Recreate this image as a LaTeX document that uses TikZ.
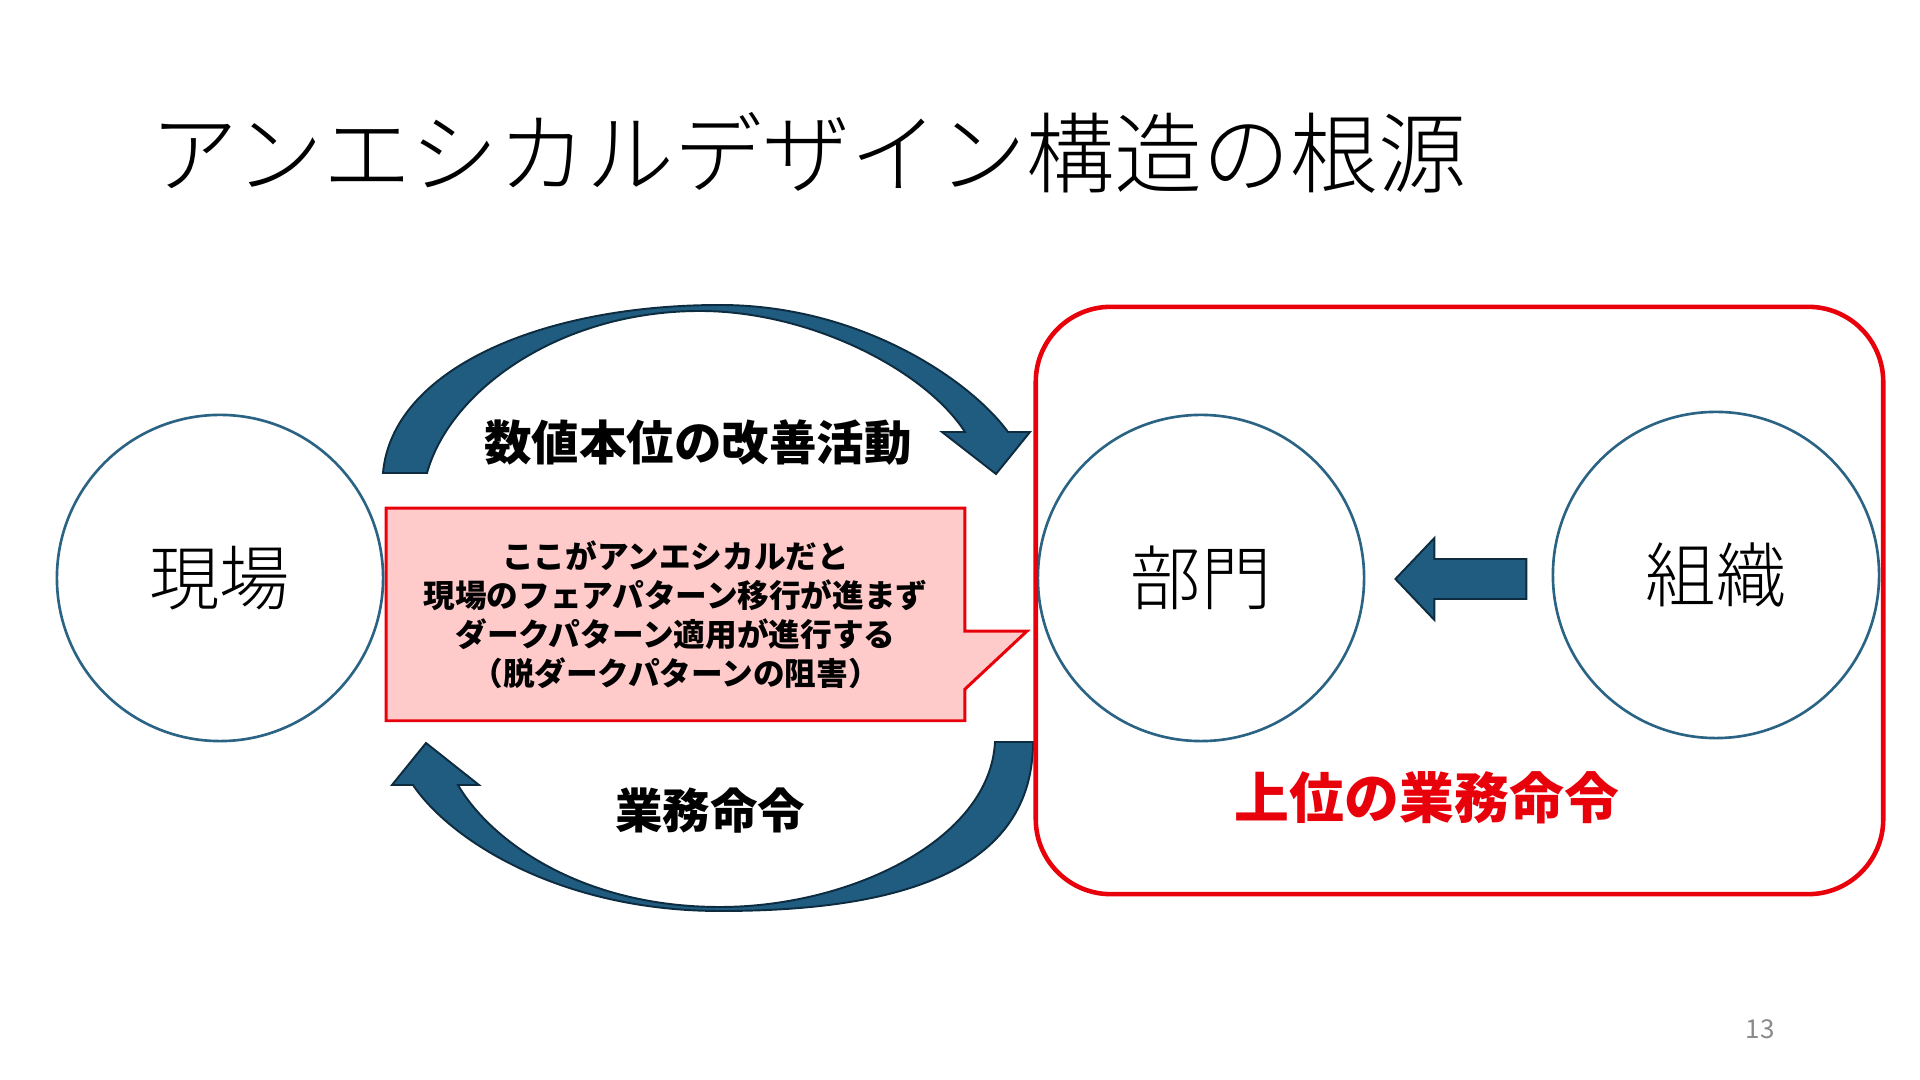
\documentclass[tikz,border=0pt]{standalone}
\usepackage{fontspec}
\newfontfamily\jpfont{Noto Sans CJK JP}
\newfontfamily\jplight{Noto Sans CJK JP Light}
\usepackage{xcolor}
\usepackage{tikz}
\usetikzlibrary{positioning,calc,backgrounds}

\definecolor{arrowblue}{HTML}{1F5C80}
\definecolor{arrowedge}{HTML}{0E2C40}
\definecolor{ringblue}{HTML}{2A6384}
\definecolor{alertred}{HTML}{E8000B}
\definecolor{notepink}{HTML}{FFCACA}
\definecolor{pagegray}{HTML}{8A8A8A}

\begin{document}
\begin{tikzpicture}[
    x=0.01cm, y=-0.01cm,
    font=\jpfont,
    ring/.style={circle,draw=ringblue,line width=0.75pt,minimum size=3.26cm,inner sep=0pt,
        font=\jplight\fontsize{20}{24}\selectfont},
    bandarrow/.style={fill=arrowblue,draw=arrowedge,line width=0.55pt,line join=miter},
    flowlabel/.style={font=\jpfont\bfseries\fontsize{13.5}{16}\selectfont,inner sep=0pt},
    redframe/.style={draw=alertred,line width=1.3pt,rounded corners=0.75cm},
    notebox/.style={fill=notepink,draw=alertred,line width=0.85pt,line join=miter},
]
    \path[use as bounding box] (0,0) rectangle (1920,1080);

    \node[anchor=west,inner sep=0pt,font=\jplight\fontsize{25}{30}\selectfont] (title)
        at (150,153) {アンエシカルデザイン構造の根源};

    \node[ring] (genba) at (220,578) {現場};
    \node[ring] (bumon) at (1201,578) {部門};
    \node[ring] (soshiki) at (1716,575) {組織};

    \draw[bandarrow] (383,473) .. controls (392,370) and (540,305) .. (720,305)
        .. controls (860,305) and (970,380) .. (1008,432)
        -- (1030,432) -- (996,474) -- (942,432) -- (965,432)
        .. controls (925,370) and (810,311) .. (700,311)
        .. controls (560,311) and (450,390) .. (427,473) -- cycle;

    \draw[bandarrow] (1033,742) .. controls (1033,880) and (880,911) .. (720,911)
        .. controls (560,911) and (450,840) .. (413,785)
        -- (392,785) -- (426,743) -- (479,785) -- (458,785)
        .. controls (490,840) and (580,907) .. (720,907)
        .. controls (850,907) and (990,840) .. (995,742) -- cycle;

    \node[flowlabel] (kaizen) at (698,443) {数値本位の改善活動};
    \node[flowlabel] (gyomu) at (710,811) {業務命令};

    \node[font=\jpfont\bfseries\fontsize{9}{11.1}\selectfont,align=center,
        minimum width=5.77cm,minimum height=2.11cm,inner sep=0pt] (callout)
        at (675.5,614.5) {ここがアンエシカルだと\\現場のフェアパターン移行が進まず\\
        ダークパターン適用が進行する\\（脱ダークパターンの阻害）};
    \begin{scope}[on background layer]
        \draw[notebox] (callout.north west) -- (callout.north east)
            -- ($(callout.north east)+(0,123)$) -- ++(62,0)
            -- ($(callout.north east)+(0,181)$) -- (callout.south east)
            -- (callout.south west) -- cycle;
    \end{scope}

    \node[redframe,minimum width=8.47cm,minimum height=5.87cm] (jouibox) at (1459.5,600.5) {};
    \node[font=\jpfont\bfseries\fontsize{15.6}{18}\selectfont,text=alertred,inner sep=0pt]
        (joui) at (1427,798) {上位の業務命令};

    \draw[bandarrow] ($(bumon.east)+(30,1)$) -- ++(39,-41) -- ++(0,21) -- ++(92,0)
        -- ++(0,40) -- ++(-92,0) -- ++(0,21) -- cycle;

    \node[font=\jpfont\fontsize{7.4}{9}\selectfont,text=pagegray,inner sep=0pt]
        (pagenum) at (1760,1029) {13};
\end{tikzpicture}
\end{document}
